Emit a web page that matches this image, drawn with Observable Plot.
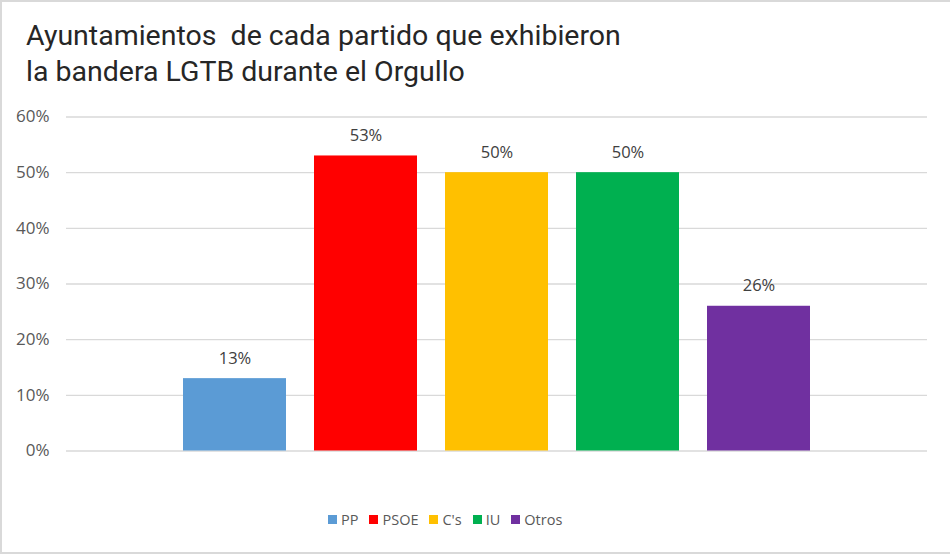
<!DOCTYPE html>
<html><head><meta charset="utf-8">
<script src="https://cdn.jsdelivr.net/npm/d3@7"></script>
<script src="https://cdn.jsdelivr.net/npm/@observablehq/plot@0.6"></script>
<style>
html,body{margin:0;padding:0;background:#fff;}
#frame{position:relative;width:950px;height:554px;box-sizing:border-box;border-top:2px solid #d9d9d9;border-left:2px solid #d9d9d9;border-bottom:2px solid #d9d9d9;overflow:hidden;}
#title{position:absolute;left:24px;top:16px;font-family:Roboto,sans-serif;font-size:28.5px;line-height:36px;color:#262626;white-space:pre;}
#chart{position:absolute;left:-2px;top:93px;}
#legend{position:absolute;left:326px;top:508px;display:flex;gap:11px;font-family:"Open Sans",sans-serif;font-size:14.5px;color:#595959;}
#legend span.item{display:flex;align-items:center;gap:4px;}
#legend span.sw{display:inline-block;width:9px;height:9px;}
</style></head>
<body>
<div id="frame">
<div id="title">Ayuntamientos  de cada partido que exhibieron
la bandera LGTB durante el Orgullo</div>
<div id="chart"></div>
<div id="legend"></div>
</div>
<script>
const parties = ["PP", "PSOE", "C's", "IU", "Otros"];
const values = [0.13, 0.53, 0.50, 0.50, 0.26];
const colors = ["#5b9bd5", "#ff0000", "#ffc000", "#00b050", "#7030a0"];
const yTicks = [0, 0.1, 0.2, 0.3, 0.4, 0.5, 0.6];

const data = parties.map((p, i) => ({party: p, value: values[i]}));
const fmt = d3.format(".0%");

const plot = Plot.plot({
  width: 950,
  height: 385,
  marginLeft: 66,
  marginRight: 23,
  marginTop: 21.5,
  marginBottom: 29.5,
  style: {fontFamily: "'Open Sans', sans-serif", fontSize: "16.5px", color: "#595959", background: "transparent"},
  x: {domain: parties, paddingInner: 0.216, paddingOuter: 0.89, axis: null},
  y: {domain: [0, 0.6], axis: null},
  color: {domain: parties, range: colors},
  marks: [
    Plot.ruleY(yTicks, {stroke: "#d9d9d9", strokeWidth: 1.3}),
    Plot.axisY({ticks: yTicks, tickFormat: fmt, tickSize: 0, tickPadding: 17, label: null, fontSize: 17, fill: "#595959"}),
    Plot.barY(data, {x: "party", y: "value", fill: "party"}),
    Plot.text(data, {x: "party", y: "value", text: d => fmt(d.value), dy: -15, fill: "#404040", fontSize: 16.5, lineAnchor: "bottom"})
  ]
});
document.getElementById("chart").appendChild(plot);

const leg = document.getElementById("legend");
parties.forEach((p, i) => {
  const it = document.createElement("span");
  it.className = "item";
  const sw = document.createElement("span");
  sw.className = "sw";
  sw.style.background = colors[i];
  const t = document.createElement("span");
  t.textContent = p;
  it.appendChild(sw); it.appendChild(t);
  leg.appendChild(it);
});
</script>
</body></html>
